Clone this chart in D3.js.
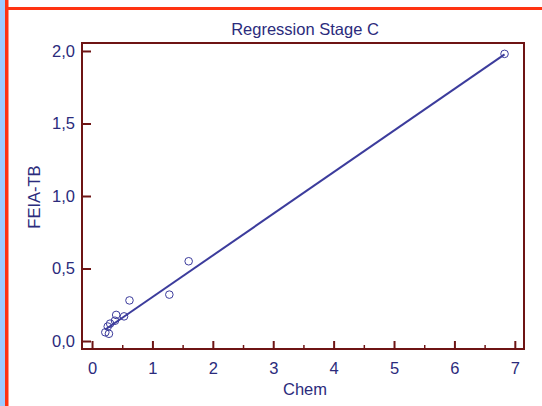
<!DOCTYPE html>
<html>
<head>
<meta charset="utf-8">
<script src="https://cdn.jsdelivr.net/npm/d3@7"></script>
<style>
  html, body { margin: 0; padding: 0; background: #fff; }
  svg { display: block; font-family: "Liberation Sans", Arial, sans-serif; }
</style>
</head>
<body>
<svg id="chart" width="542" height="406"></svg>
<script>
// Measured pairs: Chem (x) vs FEIA-TB (y)
const chemValues = [0.22, 0.28, 0.26, 0.30, 0.38, 0.40, 0.53, 0.62, 1.28, 1.60, 6.83];
const feiaValues = [0.06, 0.05, 0.10, 0.12, 0.14, 0.18, 0.17, 0.28, 0.32, 0.55, 1.98];

// Fitted regression line y = intercept + slope * x
const fitIntercept = 0.016;
const fitSlope = 0.287;

const xTicks = [0, 1, 2, 3, 4, 5, 6, 7];
const xMinorTicks = [0.5, 1.5, 2.5, 3.5, 4.5, 5.5, 6.5];
const yTicks = [0, 0.5, 1.0, 1.5, 2.0];

const svg = d3.select("#chart");
const W = 542, H = 406;

const frame = { left: 82, top: 43, right: 524, bottom: 349 };
const textColor = "#2b2b7c";
const frameColor = "#6e1414";
const markColor = "#3c3c9c";
const fontSize = 16.5;

const x = d3.scaleLinear().domain([-0.166, 7.152]).range([frame.left, frame.right]);
const y = d3.scaleLinear().domain([-0.055, 2.055]).range([frame.bottom, frame.top]);

// Page decorations: side strip and red border lines
svg.append("rect").attr("x", 0).attr("y", 0).attr("width", 5).attr("height", H).attr("fill", "#9ecbff");
svg.append("rect").attr("x", 5).attr("y", 0).attr("width", 3.5).attr("height", H).attr("fill", "#ff3311");
svg.append("rect").attr("x", 5).attr("y", 7).attr("width", W - 5).attr("height", 3).attr("fill", "#ff3311");

// Plot frame
svg.append("rect")
  .attr("x", frame.left).attr("y", frame.top)
  .attr("width", frame.right - frame.left).attr("height", frame.bottom - frame.top)
  .attr("fill", "none").attr("stroke", frameColor).attr("stroke-width", 2);

// X axis: inward ticks along the bottom edge
const xAxis = d3.axisBottom(x).tickValues(xTicks).tickSize(-8).tickPadding(13).tickFormat(d3.format("d"));
const gx = svg.append("g").attr("transform", `translate(0,${frame.bottom})`).call(xAxis);
gx.select(".domain").remove();
gx.selectAll(".tick line").attr("stroke", frameColor).attr("stroke-width", 2);
gx.selectAll(".tick text").attr("fill", textColor).attr("font-size", fontSize).attr("font-family", "Liberation Sans, Arial, sans-serif");

const gxm = svg.append("g").attr("transform", `translate(0,${frame.bottom})`)
  .call(d3.axisBottom(x).tickValues(xMinorTicks).tickSize(-4).tickFormat(""));
gxm.select(".domain").remove();
gxm.selectAll(".tick line").attr("stroke", frameColor).attr("stroke-width", 1.5);

// Y axis: inward ticks along the left edge, comma decimals
const commaFmt = d => d3.format(".1f")(d).replace(".", ",");
const yAxis = d3.axisLeft(y).tickValues(yTicks).tickSize(-9).tickPadding(7).tickFormat(commaFmt);
const gy = svg.append("g").attr("transform", `translate(${frame.left},0)`).call(yAxis);
gy.select(".domain").remove();
gy.selectAll(".tick line").attr("stroke", frameColor).attr("stroke-width", 2);
gy.selectAll(".tick text").attr("fill", textColor).attr("font-size", fontSize).attr("font-family", "Liberation Sans, Arial, sans-serif");

// Regression line across the data range
const xMin = d3.min(chemValues), xMax = d3.max(chemValues);
svg.append("line")
  .attr("x1", x(xMin)).attr("y1", y(fitIntercept + fitSlope * xMin))
  .attr("x2", x(xMax)).attr("y2", y(fitIntercept + fitSlope * xMax))
  .attr("stroke", markColor).attr("stroke-width", 2);

// Data points as open circles
svg.append("g").selectAll("circle")
  .data(d3.zip(chemValues, feiaValues))
  .join("circle")
  .attr("cx", d => x(d[0])).attr("cy", d => y(d[1]))
  .attr("r", 3.8)
  .attr("fill", "none").attr("stroke", markColor).attr("stroke-width", 1);

// Titles
svg.append("text").attr("x", 305).attr("y", 35).attr("text-anchor", "middle")
  .attr("fill", textColor).attr("font-size", fontSize).text("Regression Stage C");
svg.append("text").attr("x", 305).attr("y", 395).attr("text-anchor", "middle")
  .attr("fill", textColor).attr("font-size", fontSize).text("Chem");
svg.append("text").attr("transform", "translate(40,197) rotate(-90)").attr("text-anchor", "middle")
  .attr("fill", textColor).attr("font-size", fontSize).text("FEIA-TB");
</script>
</body>
</html>
